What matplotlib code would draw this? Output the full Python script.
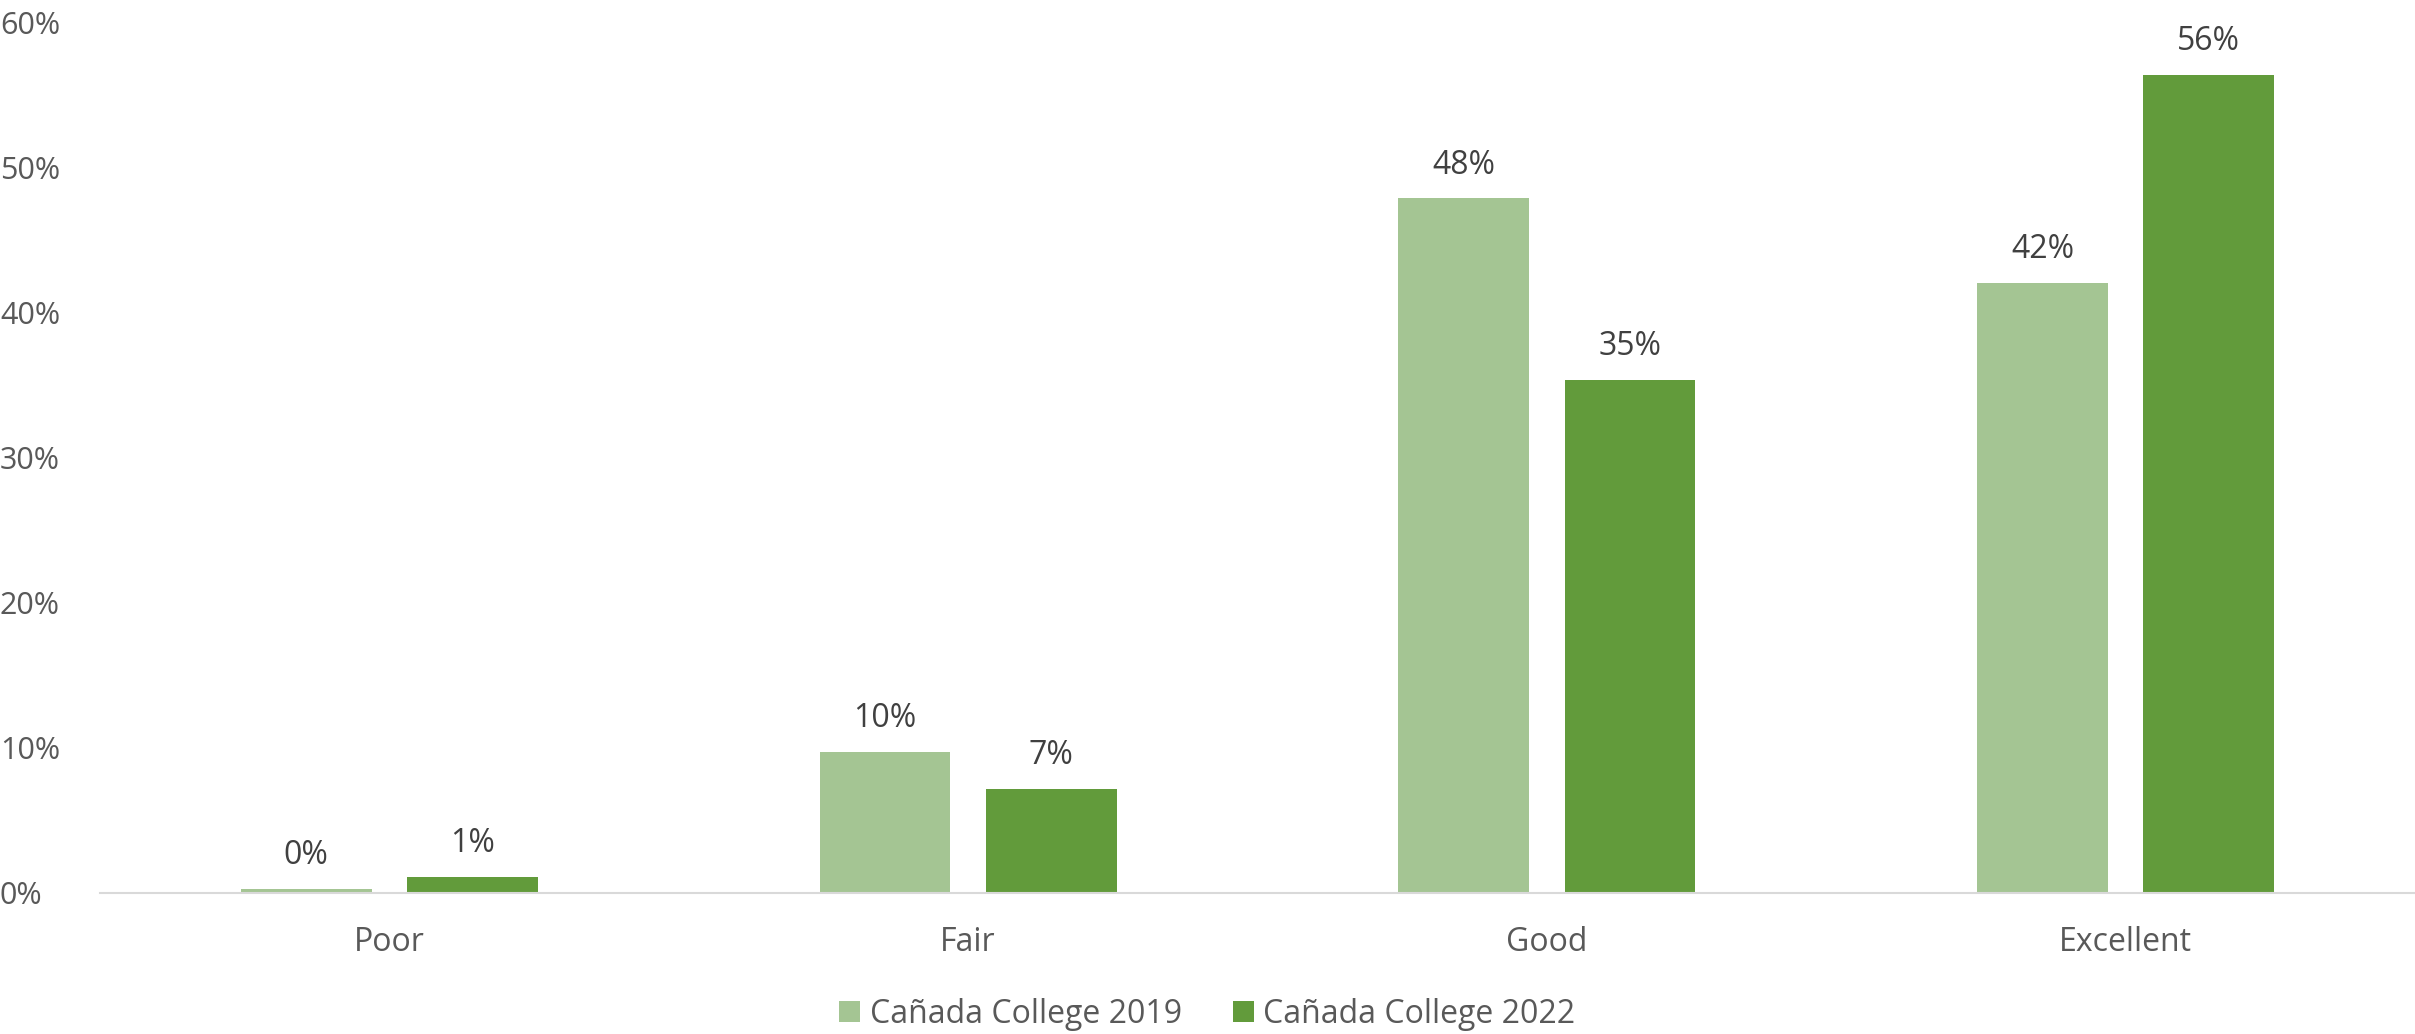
import matplotlib.pyplot as plt
import numpy as np

# data
categories = ['Poor', 'Fair', 'Good', 'Excellent']
series_names = ['Cañada College 2019', 'Cañada College 2022']
vals_2019 = [0.3, 9.7, 47.9, 42.1]
vals_2022 = [1.1, 7.2, 35.4, 56.4]
labels_2019 = ['0%', '10%', '48%', '42%']
labels_2022 = ['1%', '7%', '35%', '56%']
y_ticks = [0, 10, 20, 30, 40, 50, 60]

col_light = '#A4C593'
col_dark = '#629B3B'

plt.rcParams['font.family'] = ['Open Sans', 'DejaVu Sans']

fig = plt.figure(figsize=(24.15, 10.34), dpi=100)
ax = fig.add_axes([0.0414, 0.1364, 0.9586, 0.8414])

x = np.arange(len(categories))
w = 0.226
gap = 0.061
b1 = ax.bar(x - (w + gap) / 2, vals_2019, w, color=col_light, label=series_names[0])
b2 = ax.bar(x + (w + gap) / 2, vals_2022, w, color=col_dark, label=series_names[1])

for bars, labs in ((b1, labels_2019), (b2, labels_2022)):
    for r, lab in zip(bars, labs):
        ax.annotate(lab, (r.get_x() + r.get_width() / 2, r.get_height()),
                    xytext=(0, 24), textcoords='offset points',
                    ha='center', va='center', fontsize=23, color='#404040')

ax.set_xlim(-0.5, len(categories) - 0.5)
ax.set_ylim(0, 60)
ax.set_yticks(y_ticks)
ax.set_yticklabels([f'{t}%' for t in y_ticks])
for t in ax.get_yticklabels():
    t.set_horizontalalignment('left')
ax.set_xticks(x)
ax.set_xticklabels(categories)
ax.tick_params(axis='y', length=0, pad=72, labelsize=22, labelcolor='#595959')
ax.tick_params(axis='x', length=0, pad=24, labelsize=23, labelcolor='#595959')

for s in ('top', 'right', 'left'):
    ax.spines[s].set_visible(False)
ax.spines['bottom'].set_color('#D9D9D9')
ax.spines['bottom'].set_linewidth(1.5)

fig.legend(loc='center', bbox_to_anchor=(0.5, 0.019), ncol=2, frameon=False,
           fontsize=23, labelcolor='#595959', handlelength=0.65, handleheight=0.65,
           handletextpad=0.3, columnspacing=1.6)

fig.savefig('out.png', dpi=100)
